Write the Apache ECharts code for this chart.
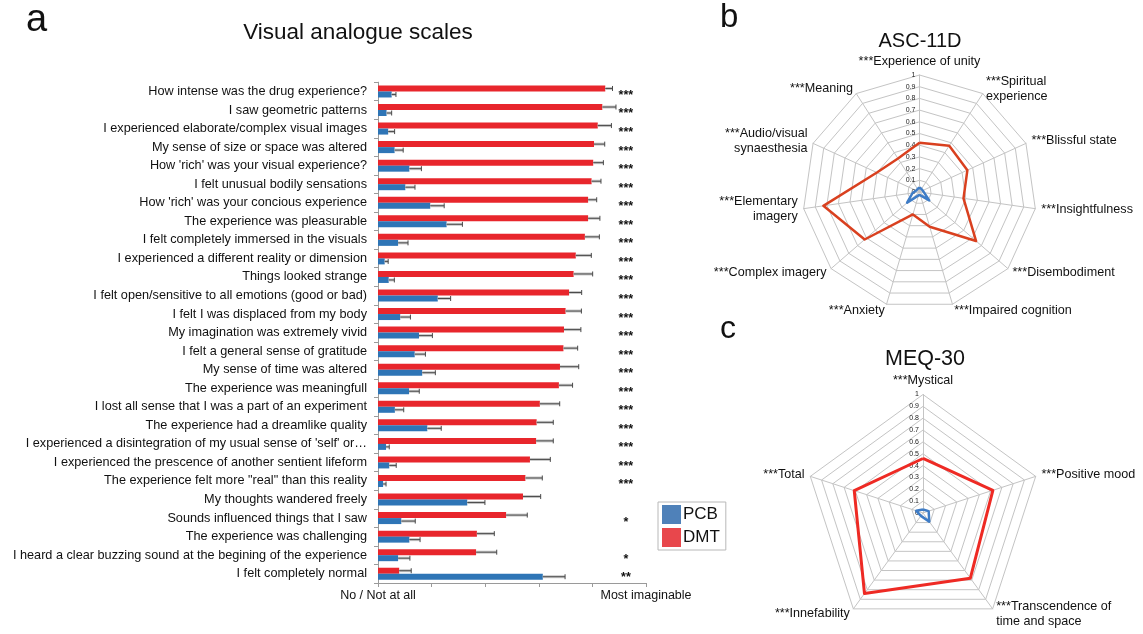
<!DOCTYPE html>
<html>
<head>
<meta charset="utf-8">
<script src="https://cdn.jsdelivr.net/npm/echarts@6/dist/echarts.min.js"></script>
<style>
  html, body { margin: 0; padding: 0; background: #fff; }
  #chart { width: 1143px; height: 634px; }
</style>
</head>
<body>
<div id="chart"></div>
<script>
// ---- Visual analogue scales (panel a) ----
const vasItems = [
  'How intense was the drug experience?',
  'I saw geometric patterns',
  'I experienced elaborate/complex visual images',
  'My sense of size or space was altered',
  "How 'rich' was your visual experience?",
  'I felt unusual bodily sensations',
  "How 'rich' was your concious experience",
  'The experience was pleasurable',
  'I felt completely immersed in the visuals',
  'I experienced a different reality or dimension',
  'Things looked strange',
  'I felt open/sensitive to all emotions (good or bad)',
  'I felt I was displaced from my body',
  'My imagination was extremely vivid',
  'I felt a general sense of gratitude',
  'My sense of time was altered',
  'The experience was meaningfull',
  'I lost all sense that I was a part of an experiment',
  'The experience had a dreamlike quality',
  "I experienced a disintegration of my usual sense of 'self' or\u2026",
  'I experienced the prescence of another sentient lifeform',
  'The experience felt more "real" than this reality',
  'My thoughts wandered freely',
  'Sounds influenced things that I saw',
  'The experience was challenging',
  'I heard a clear buzzing sound at the begining of the experience',
  'I felt completely normal'
];
const dmtMean = [84.8, 83.7, 82.0, 80.6, 80.3, 79.7, 78.4, 78.4, 77.2, 73.8, 73.0, 71.3, 70.0, 69.4,
                 69.2, 67.9, 67.5, 60.4, 59.2, 59.0, 56.7, 55.0, 54.1, 47.8, 36.9, 36.6, 7.9];
const dmtErr  = [2.7, 5.1, 5.1, 4.0, 3.8, 3.5, 3.2, 4.4, 5.4, 5.8, 7.1, 4.7, 5.9, 6.3,
                 5.3, 7.0, 5.1, 7.4, 6.2, 6.4, 7.6, 6.3, 6.6, 7.9, 6.5, 7.7, 4.5];
const pcbMean = [5.1, 3.2, 3.8, 6.2, 11.7, 10.2, 19.5, 25.6, 7.5, 2.5, 4.0, 22.3, 8.3, 15.3,
                 13.7, 16.5, 11.6, 6.3, 18.4, 3.0, 4.2, 1.9, 33.3, 8.7, 11.7, 7.5, 61.5];
const pcbErr  = [1.6, 1.9, 2.4, 3.2, 4.5, 3.6, 5.2, 5.9, 3.7, 1.3, 2.1, 4.8, 3.8, 5.0,
                 4.0, 4.9, 3.8, 3.3, 5.2, 1.2, 2.6, 1.1, 6.6, 5.2, 4.0, 4.4, 8.3];
const vasStars = ['***', '***', '***', '***', '***', '***', '***', '***', '***', '***', '***', '***', '***', '***',
                  '***', '***', '***', '***', '***', '***', '***', '***', '', '*', '', '*', '**'];
const vasEndLabels = { 0: 'No / Not at all', 100: 'Most imaginable' };

// ---- ASC-11D (panel b), listed clockwise from the top ----
const ascDims = [
  '***Experience of unity', '***Spiritual\nexperience', '***Blissful state', '***Insightfulness',
  '***Disembodiment', '***Impaired cognition', '***Anxiety', '***Complex imagery',
  '***Elementary\nimagery', '***Audio/visual\nsynaesthesia', '***Meaning'
];
const ascDMT = [0.42, 0.47, 0.45, 0.38, 0.64, 0.31, 0.20, 0.62, 0.83, 0.40, 0.34];
const ascPCB = [0.04, 0.03, 0.03, 0.04, 0.11, 0.03, 0.03, 0.14, 0.06, 0.03, 0.03];

// ---- MEQ-30 (panel c), listed clockwise from the top ----
const meqDims = ['***Mystical', '***Positive mood', '***Transcendence of\ntime and space', '***Innefability', '***Total'];
const meqDMT = [0.46, 0.62, 0.68, 0.84, 0.61];
const meqPCB = [0.03, 0.05, 0.09, 0.03, 0.06];

const FONT = 'Liberation Sans, Arial, Helvetica, sans-serif';
const RED = '#E8262C';
const BLUE = '#2E75B6';

// ECharts lays radar indicators counter-clockwise; keep the first, reverse the rest
function cw(arr) { return [arr[0]].concat(arr.slice(1).reverse()); }

function errorBarSeries(name, means, errs, dy) {
  return {
    type: 'custom',
    name: name + ' error',
    xAxisIndex: 0, yAxisIndex: 0,
    silent: true,
    z: 5,
    data: means.map((m, i) => [m, i, errs[i]]),
    encode: { x: 0, y: 1 },
    renderItem: function (params, api) {
      const p0 = api.coord([api.value(0), api.value(1)]);
      const p1 = api.coord([api.value(0) + api.value(2), api.value(1)]);
      const y = p0[1] + dy;
      const cap = 2.5;
      return {
        type: 'group',
        children: [
          { type: 'line', shape: { x1: p0[0], y1: y, x2: p1[0], y2: y },
            style: { stroke: '#c8c8c8', lineWidth: 3 } },
          { type: 'line', shape: { x1: p0[0], y1: y, x2: p1[0], y2: y },
            style: { stroke: '#4a4a4a', lineWidth: 1 } },
          { type: 'line', shape: { x1: p1[0], y1: y - cap, x2: p1[0], y2: y + cap },
            style: { stroke: '#4a4a4a', lineWidth: 1 } }
        ]
      };
    }
  };
}

function radarBase(center, radius, dims, nameGap) {
  const ind = cw(dims).map((n, i) => {
    const o = { name: n, min: 0, max: 1 };
    if (i === 0) {
      o.axisLabel = {
        show: true, fontSize: 7, color: '#222', margin: 4,
        fontFamily: FONT, showMinLabel: true, showMaxLabel: true,
        formatter: v => String(Math.round(v * 10) / 10)
      };
    }
    return o;
  });
  return {
    center: center,
    radius: radius,
    startAngle: 90,
    shape: 'polygon',
    splitNumber: 10,
    nameGap: nameGap,
    indicator: ind,
    axisName: { color: '#111', fontSize: 12.6, fontFamily: FONT, lineHeight: 15 },
    axisLine: { lineStyle: { color: '#c4c4c4', width: 1 } },
    splitLine: { lineStyle: { color: '#c4c4c4', width: 1 } },
    splitArea: { show: false },
    axisTick: { show: false },
    axisLabel: { show: false }
  };
}

const chart = echarts.init(document.getElementById('chart'), null, { renderer: 'canvas' });

const titleStyle = size => ({ fontSize: size, fontWeight: 'normal', color: '#111', fontFamily: FONT });

const option = {
  backgroundColor: '#fff',
  animation: false,
  textStyle: { fontFamily: FONT },
  title: [
    { text: 'a', left: 26, top: 2, padding: 0, textStyle: titleStyle(38) },
    { text: 'Visual analogue scales', left: 358, top: 21, padding: 0, textAlign: 'center', textStyle: titleStyle(22.5) },
    { text: 'b', left: 720, top: 1, padding: 0, textStyle: titleStyle(33) },
    { text: 'ASC-11D', left: 920, top: 31.5, padding: 0, textAlign: 'center', textStyle: titleStyle(20) },
    { text: 'c', left: 720, top: 313, padding: 0, textStyle: titleStyle(32) },
    { text: 'MEQ-30', left: 925, top: 348, padding: 0, textAlign: 'center', textStyle: titleStyle(21.5) }
  ],
  legend: {
    data: [
      { name: 'PCB', itemStyle: { color: '#4F81B9' } },
      { name: 'DMT', itemStyle: { color: '#E8474C' } }
    ],
    orient: 'vertical',
    left: 658, top: 502,
    icon: 'rect',
    itemWidth: 19, itemHeight: 19, itemGap: 4,
    padding: [3, 6, 3, 4],
    borderColor: '#b8b8b8', borderWidth: 1,
    selectedMode: false,
    textStyle: { fontSize: 17, color: '#111', fontFamily: FONT, padding: [0, 0, 0, -3] }
  },
  grid: { left: 378, top: 82.2, width: 268, height: 500.8, containLabel: false },
  xAxis: {
    type: 'value', min: 0, max: 100, interval: 20,
    axisLine: { show: true, lineStyle: { color: '#9a9a9a' } },
    axisTick: { show: true, length: 4, lineStyle: { color: '#9a9a9a' } },
    splitLine: { show: false },
    axisLabel: {
      fontSize: 12.5, color: '#111', margin: 6, fontFamily: FONT,
      formatter: v => vasEndLabels[v] || ''
    }
  },
  yAxis: {
    type: 'category', inverse: true, data: vasItems,
    axisLine: { show: true, lineStyle: { color: '#9a9a9a' } },
    axisTick: { show: true, length: 4, lineStyle: { color: '#9a9a9a' } },
    axisLabel: { fontSize: 12.7, color: '#111', margin: 11, fontFamily: FONT, interval: 0 }
  },
  radar: [
    radarBase([919.5, 192], 117, ascDims, 6),
    radarBase([923, 513], 118.5, meqDims, 6)
  ],
  series: [
    { name: 'DMT', type: 'bar', data: dmtMean, barWidth: 6, barGap: '0%', itemStyle: { color: RED }, z: 3 },
    { name: 'PCB', type: 'bar', data: pcbMean, barWidth: 6, barGap: '0%', itemStyle: { color: BLUE }, z: 3 },
    errorBarSeries('DMT', dmtMean, dmtErr, -3),
    errorBarSeries('PCB', pcbMean, pcbErr, 3),
    {
      type: 'custom',
      name: 'significance',
      silent: true,
      data: vasStars.map((s, i) => [92.5, i]),
      encode: { x: 0, y: 1 },
      renderItem: function (params, api) {
        const p = api.coord([api.value(0), api.value(1)]);
        return {
          type: 'text',
          x: p[0], y: p[1] + 4,
          style: { text: vasStars[params.dataIndex], align: 'center', verticalAlign: 'middle',
                   font: 'bold 12.5px ' + FONT, fill: '#111' }
        };
      }
    },
    {
      type: 'radar', radarIndex: 0, symbol: 'none', silent: true,
      data: [
        { name: 'DMT', value: cw(ascDMT), lineStyle: { color: '#D9401F', width: 2.5 } },
        { name: 'PCB', value: cw(ascPCB), lineStyle: { color: '#3E7CC6', width: 2.5 } }
      ]
    },
    {
      type: 'radar', radarIndex: 1, symbol: 'none', silent: true,
      data: [
        { name: 'DMT', value: cw(meqDMT), lineStyle: { color: '#EE2A24', width: 3 } },
        { name: 'PCB', value: cw(meqPCB), lineStyle: { color: '#3E7CC6', width: 2.5 } }
      ]
    }
  ]
};

chart.setOption(option);
</script>
</body>
</html>
